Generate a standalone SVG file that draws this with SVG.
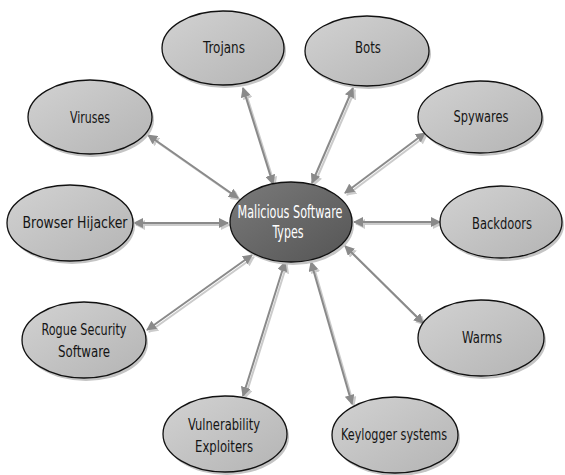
<svg xmlns="http://www.w3.org/2000/svg" width="565" height="475" viewBox="0 0 565 475">
<style>
.sh{fill:#c4c4c4;stroke:none}
.nd{fill:url(#gn);stroke:#111;stroke-width:1.3}
.ct{fill:url(#gc);stroke:#111;stroke-width:1.3}
.t{font-family:"DejaVu Sans Condensed","Liberation Sans",sans-serif;font-size:16.5px;fill:#151515;text-anchor:middle}
.tw{font-family:"DejaVu Sans Condensed","Liberation Sans",sans-serif;font-size:17px;fill:#fff;text-anchor:middle}
.c{stroke:#8a8a8a;stroke-width:2;fill:none;marker-start:url(#ah);marker-end:url(#ah)}
.cs{stroke:#cbcbcb;stroke-width:2;fill:none;marker-start:url(#ahs);marker-end:url(#ahs)}
</style>
<defs>
<linearGradient id="gn" x1="0" y1="0" x2="1" y2="1">
<stop offset="0" stop-color="#d2d2d2"/><stop offset="1" stop-color="#b4b4b4"/>
</linearGradient>
<linearGradient id="gc" x1="0" y1="0" x2="1" y2="1">
<stop offset="0" stop-color="#7a7a7a"/><stop offset="1" stop-color="#555"/>
</linearGradient>
<marker id="ah" viewBox="0 0 10 10" refX="9" refY="5" markerWidth="5" markerHeight="5" orient="auto-start-reverse">
<path d="M0,0 L10,5 L0,10 z" fill="#8a8a8a"/>
</marker>
<marker id="ahs" viewBox="0 0 10 10" refX="9" refY="5" markerWidth="5" markerHeight="5" orient="auto-start-reverse">
<path d="M0,0 L10,5 L0,10 z" fill="#cbcbcb"/>
</marker>
</defs>
<rect width="565" height="475" fill="#fff"/>
<g id="connectors">
<g transform="translate(2,2)">
<line class="cs" x1="243" y1="88" x2="273" y2="184"/>
<line class="cs" x1="353" y1="88" x2="312" y2="183"/>
<line class="cs" x1="148" y1="135" x2="238" y2="198"/>
<line class="cs" x1="425" y1="133" x2="345" y2="193"/>
<line class="cs" x1="134" y1="223" x2="228" y2="223"/>
<line class="cs" x1="440" y1="222" x2="354" y2="222"/>
<line class="cs" x1="147" y1="330" x2="252" y2="255"/>
<line class="cs" x1="423" y1="323" x2="345" y2="246"/>
<line class="cs" x1="243" y1="396" x2="285" y2="262"/>
<line class="cs" x1="352" y1="404" x2="311" y2="262"/>
</g>
<line class="c" x1="243" y1="88" x2="273" y2="184"/>
<line class="c" x1="353" y1="88" x2="312" y2="183"/>
<line class="c" x1="148" y1="135" x2="238" y2="198"/>
<line class="c" x1="425" y1="133" x2="345" y2="193"/>
<line class="c" x1="134" y1="223" x2="228" y2="223"/>
<line class="c" x1="440" y1="222" x2="354" y2="222"/>
<line class="c" x1="147" y1="330" x2="252" y2="255"/>
<line class="c" x1="423" y1="323" x2="345" y2="246"/>
<line class="c" x1="243" y1="396" x2="285" y2="262"/>
<line class="c" x1="352" y1="404" x2="311" y2="262"/>
</g>
<g id="center">
<ellipse class="sh" cx="293" cy="225" rx="61" ry="40"/>
<ellipse class="ct" cx="291" cy="222" rx="61" ry="40"/>
<text class="tw" x="290" y="218" textLength="105" lengthAdjust="spacingAndGlyphs">Malicious Software</text>
<text class="tw" x="288" y="238" textLength="31" lengthAdjust="spacingAndGlyphs">Types</text>
</g>
<g id="trojans">
<ellipse class="sh" cx="225" cy="51" rx="61" ry="37"/>
<ellipse class="nd" cx="223" cy="48" rx="61" ry="37"/>
<text class="t" x="224" y="53" textLength="42" lengthAdjust="spacingAndGlyphs">Trojans</text>
</g>
<g id="bots">
<ellipse class="sh" cx="369" cy="54" rx="62" ry="35"/>
<ellipse class="nd" cx="367" cy="51" rx="62" ry="35"/>
<text class="t" x="368" y="53" textLength="26" lengthAdjust="spacingAndGlyphs">Bots</text>
</g>
<g id="viruses">
<ellipse class="sh" cx="92" cy="120" rx="62" ry="37"/>
<ellipse class="nd" cx="90" cy="117" rx="62" ry="37"/>
<text class="t" x="90" y="123" textLength="40" lengthAdjust="spacingAndGlyphs">Viruses</text>
</g>
<g id="spywares">
<ellipse class="sh" cx="482" cy="120" rx="62" ry="36"/>
<ellipse class="nd" cx="480" cy="117" rx="62" ry="36"/>
<text class="t" x="481" y="122" textLength="55" lengthAdjust="spacingAndGlyphs">Spywares</text>
</g>
<g id="browser-hijacker">
<ellipse class="sh" cx="72" cy="226" rx="63" ry="38"/>
<ellipse class="nd" cx="70" cy="223" rx="63" ry="38"/>
<text class="t" x="75" y="228" textLength="105" lengthAdjust="spacingAndGlyphs">Browser Hijacker</text>
</g>
<g id="backdoors">
<ellipse class="sh" cx="503" cy="225" rx="61" ry="36"/>
<ellipse class="nd" cx="501" cy="222" rx="61" ry="36"/>
<text class="t" x="502" y="229" textLength="60" lengthAdjust="spacingAndGlyphs">Backdoors</text>
</g>
<g id="rogue-security-software">
<ellipse class="sh" cx="86" cy="343" rx="62" ry="38"/>
<ellipse class="nd" cx="84" cy="340" rx="62" ry="38"/>
<text class="t" x="84" y="335" textLength="85" lengthAdjust="spacingAndGlyphs">Rogue Security</text>
<text class="t" x="84" y="357" textLength="52" lengthAdjust="spacingAndGlyphs">Software</text>
</g>
<g id="warms">
<ellipse class="sh" cx="483" cy="341" rx="63" ry="38"/>
<ellipse class="nd" cx="481" cy="338" rx="63" ry="38"/>
<text class="t" x="482" y="343" textLength="40" lengthAdjust="spacingAndGlyphs">Warms</text>
</g>
<g id="vulnerability-exploiters">
<ellipse class="sh" cx="227" cy="437" rx="62" ry="38"/>
<ellipse class="nd" cx="225" cy="434" rx="62" ry="38"/>
<text class="t" x="224" y="430" textLength="72" lengthAdjust="spacingAndGlyphs">Vulnerability</text>
<text class="t" x="224" y="452" textLength="58" lengthAdjust="spacingAndGlyphs">Exploiters</text>
</g>
<g id="keylogger-systems">
<ellipse class="sh" cx="397" cy="438" rx="63" ry="38"/>
<ellipse class="nd" cx="395" cy="435" rx="63" ry="38"/>
<text class="t" x="394" y="440" textLength="106" lengthAdjust="spacingAndGlyphs">Keylogger systems</text>
</g>
</svg>
